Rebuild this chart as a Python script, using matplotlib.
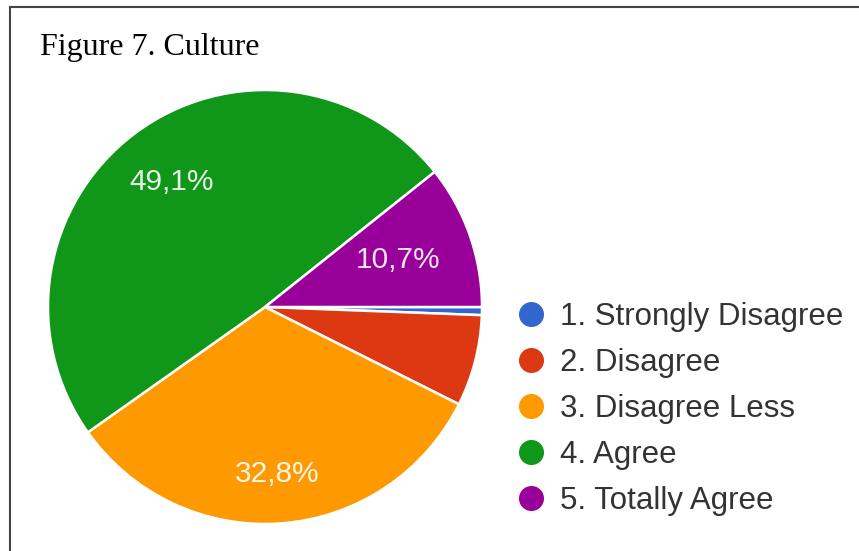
import numpy as np
import matplotlib
matplotlib.use("Agg")
import matplotlib.pyplot as plt
from matplotlib.lines import Line2D

# survey answers for "Culture" (percent of respondents)
labels = ["1. Strongly Disagree", "2. Disagree", "3. Disagree Less", "4. Agree", "5. Totally Agree"]
values = [0.6, 6.8, 32.8, 49.1, 10.7]
colors = ["#3366cc", "#dc3912", "#ff9900", "#109618", "#990099"]
# how far out (fraction of radius) each percentage sits
label_dist = [0.7, 0.7, 0.77, 0.72, 0.65]

W, H = 859, 551
fig = plt.figure(figsize=(W / 100, H / 100), dpi=100)
fig.patch.set_facecolor("white")

# pie axes: centre ~(265, 307) px, radius ~217 px
cx, cy, r = 265, 307, 217
ax = fig.add_axes([(cx - r) / W, (H - cy - r) / H, 2 * r / W, 2 * r / H])
wedges, _ = ax.pie(values, colors=colors, startangle=0, counterclock=False,
                   wedgeprops=dict(edgecolor="white", linewidth=1.8))
ax.set_xlim(-1, 1)
ax.set_ylim(-1, 1)
ax.set_aspect("equal")
ax.axis("off")

# percentage labels, only on the larger slices
for w, v, d in zip(wedges, values, label_dist):
    if v < 10:
        continue
    ang = np.deg2rad((w.theta1 + w.theta2) / 2)
    ax.text(d * np.cos(ang), d * np.sin(ang), f"{v:.1f}%".replace(".", ","),
            ha="center", va="center", color="white", fontsize=21.5,
            family="Liberation Sans", alpha=0.9)

# legend with round markers
handles = [Line2D([], [], marker="o", ls="", markersize=17,
                  markerfacecolor=c, markeredgecolor=c) for c in colors]
fig.legend(handles, labels, loc="upper left",
           bbox_to_anchor=(515 / W, 1 - 302 / H), frameon=False,
           prop={"family": "Liberation Sans", "size": 22.5},
           labelcolor="#333333", handlelength=1.0, handletextpad=0.45,
           labelspacing=0.51, borderpad=0, borderaxespad=0)

# title
fig.text(40 / W, 1 - 55 / H, "Figure 7. Culture", ha="left", va="baseline",
         fontsize=23, family="Liberation Serif", color="black")

# frame lines (top and left)
fig.add_artist(Line2D([10 / W, 1], [1 - 7 / H, 1 - 7 / H], color="#444444",
                      lw=1.5, transform=fig.transFigure))
fig.add_artist(Line2D([10 / W, 10 / W], [0, 1 - 7 / H], color="#444444",
                      lw=1.5, transform=fig.transFigure))

fig.savefig("out.png", dpi=100)
